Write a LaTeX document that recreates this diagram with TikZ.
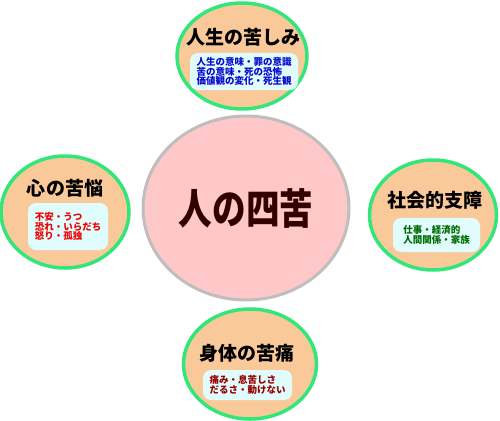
\documentclass[tikz,border=0pt]{standalone}
\usepackage{fontspec}
\setmainfont{Noto Sans CJK JP}
\usetikzlibrary{shapes.geometric}
\definecolor{ringgreen}{HTML}{33E67A}
\definecolor{peach}{HTML}{F9C99A}
\definecolor{pinkfill}{HTML}{FFC8C8}
\definecolor{graybd}{HTML}{BEBEBE}
\definecolor{boxcyan}{HTML}{E0FCFC}
\definecolor{txtblue}{HTML}{0A0ACC}
\definecolor{txtred}{HTML}{F00000}
\definecolor{txtgreen}{HTML}{006B00}
\definecolor{txtdred}{HTML}{990000}
\definecolor{coretxt}{HTML}{330000}
\begin{document}
\begin{tikzpicture}[x=1pt,y=-1pt,
  outer/.style={ellipse,draw=ringgreen,line width=3.5pt,fill=peach,inner sep=0pt},
  centre/.style={ellipse,draw=graybd,line width=3pt,fill=pinkfill,inner sep=0pt},
  title/.style={font=\fontsize{19}{19}\selectfont\bfseries,inner sep=0pt},
  detail/.style={rounded corners=8pt,fill=boxcyan,inner sep=0pt,align=left,
    font=\fontsize{9.5}{9.8}\selectfont\bfseries}
]
\useasboundingbox (0,0) rectangle (500,420);
% outer ellipses
\node[outer,minimum width=130pt,minimum height=106pt] (topE) at (242,56) {};
\node[outer,minimum width=128pt,minimum height=112pt] (leftE) at (65,212) {};
\node[outer,minimum width=127pt,minimum height=110pt] (rightE) at (433,215) {};
\node[outer,minimum width=133pt,minimum height=110pt] (botE) at (250,364) {};
% centre
\node[centre,minimum width=206pt,minimum height=184pt,text=coretxt] (core) at (246,208)
  {\scalebox{0.8}[1]{\fontsize{42}{42}\selectfont\bfseries 人の四苦}};
% titles
\node[title] (topT) at (243,37) {人生の苦しみ};
\node[title] (leftT) at (65,188) {心の苦悩};
\node[title] (rightT) at (435,200) {社会的支障};
\node[title] (botT) at (247,353) {身体の苦痛};
% detail boxes
\node[detail,minimum width=108pt,minimum height=37pt,text=txtblue] (topB) at (244,71.5)
  {人生の意味・罪の意識\\苦の意味・死の恐怖\\価値観の変化・死生観};
\node[detail,minimum width=80pt,minimum height=47pt,text=txtred] (leftB) at (68,226.5)
  {不安・うつ\\恐れ・いらだち\\怒り・孤独};
\node[detail,minimum width=87pt,minimum height=34pt,text=txtgreen] (rightB) at (436.5,235)
  {仕事・経済的\\人間関係・家族};
\node[detail,minimum width=89pt,minimum height=30pt,text=txtdred] (botB) at (247.5,385)
  {痛み・息苦しさ\\だるさ・動けない};
\end{tikzpicture}
\end{document}
